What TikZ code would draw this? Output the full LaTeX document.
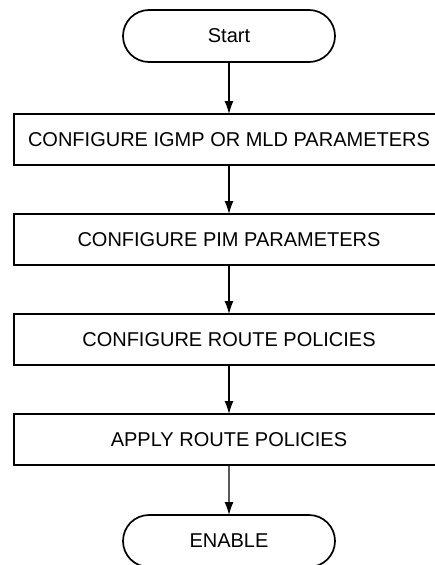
\documentclass[tikz,border=0pt]{standalone}
\usepackage{fontspec}
\setmainfont{Liberation Sans}
\usetikzlibrary{positioning,shapes.misc,arrows.meta}

\tikzset{
	stepbox/.style={draw, line width=1.7pt, minimum width=430pt, minimum height=51pt, inner sep=0pt, outer sep=0pt},
	termbox/.style={draw, line width=1.7pt, rounded rectangle, minimum width=212pt, minimum height=52pt, inner sep=0pt, outer sep=0pt},
	flow/.style={line width=1.3pt, -{Latex[length=13pt,width=9pt]}}
}

\begin{document}
\begin{tikzpicture}[x=1pt, y=1pt, node distance=49pt, font=\fontsize{20}{23}\selectfont]
	\useasboundingbox (0,0) rectangle (435,-565);
	\node[termbox] (start) at (229,-36) {Start};
	\node[stepbox, below=52pt of start] (igmp) {CONFIGURE IGMP OR MLD PARAMETERS};
	\node[stepbox, below=of igmp] (pim) {CONFIGURE PIM PARAMETERS};
	\node[stepbox, below=of pim] (confpol) {CONFIGURE ROUTE POLICIES};
	\node[stepbox, below=of confpol] (applypol) {APPLY ROUTE POLICIES};
	\node[termbox, below=50pt of applypol] (enable) {ENABLE};
	% arrows
	\foreach \a/\b in {start/igmp, igmp/pim, pim/confpol, confpol/applypol, applypol/enable}
		\draw[flow] (\a) -- (\b);
\end{tikzpicture}
\end{document}
